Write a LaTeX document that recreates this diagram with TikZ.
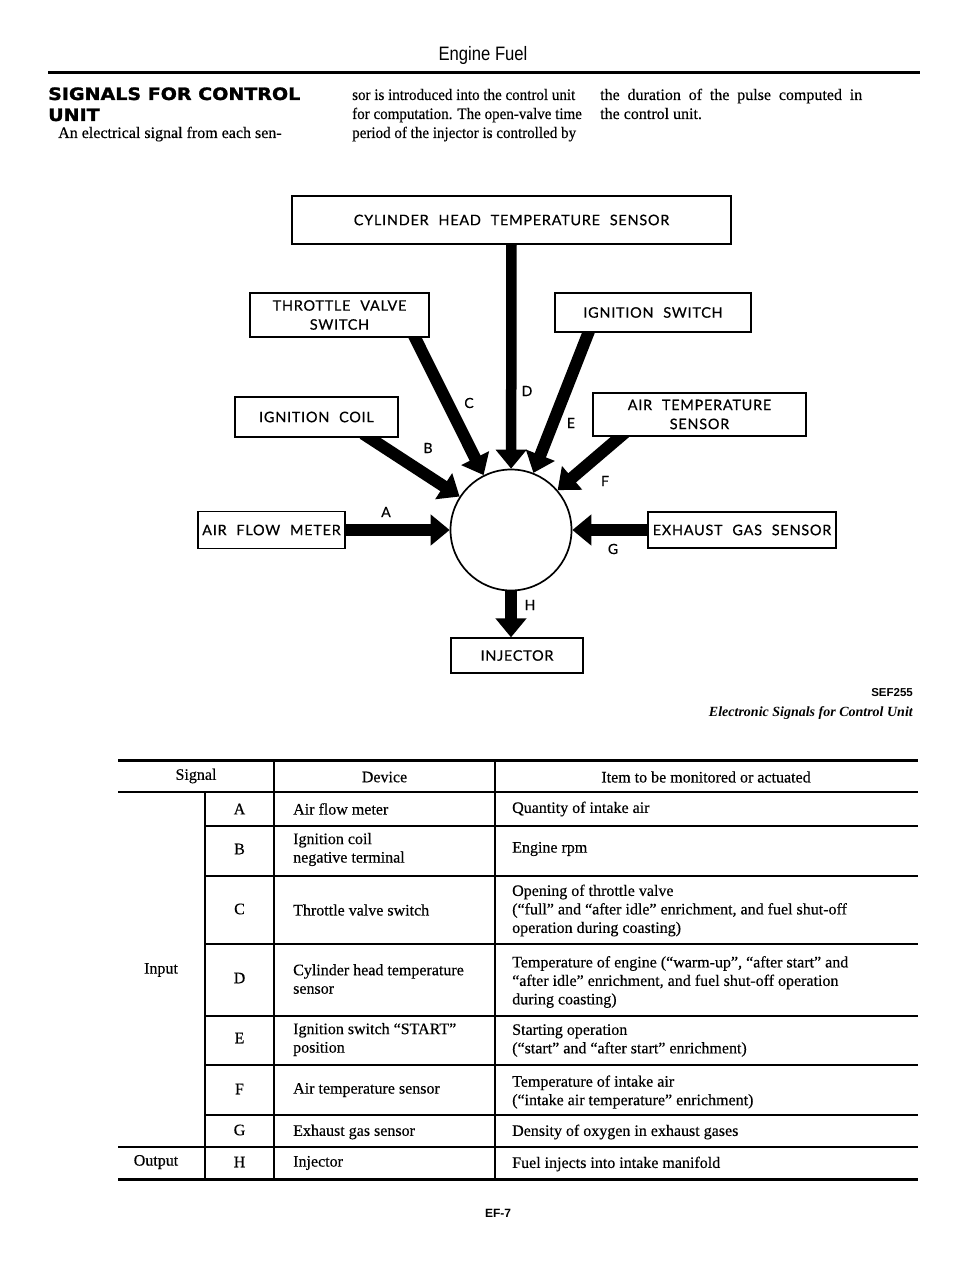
\documentclass[tikz,border=0pt]{standalone}
\usepackage{fontspec}
\setmainfont{Liberation Serif}
\newfontfamily\tabfont{Liberation Serif}[FakeBold=0.35]
\newfontfamily\diagfont{Lato}[LetterSpace=5,WordSpace=2.2,FakeBold=0.5]
\newfontfamily\headfont{DejaVu Sans}[BoldFeatures={FakeBold=1.5}]
\newfontfamily\arialfont{Liberation Sans}
\usetikzlibrary{arrows.meta}
\pgfdeclarelayer{bg}
\pgfsetlayers{bg,main}
\begin{document}
\begin{tikzpicture}[x=1pt,y=-1pt,
  box/.style={draw, line width=1.3pt, fill=white, inner sep=0pt, align=center,
    font=\diagfont\fontsize{14.5}{19}\selectfont},
  lbl/.style={font=\diagfont\fontsize{14}{16}\selectfont, inner sep=0pt},
  sig/.style={line width=12pt, -{Triangle[width=30pt,length=19pt]}},
  tline/.style={line width=1.7pt},
  thick rule/.style={line width=3pt},
  ttext/.style={font=\tabfont\fontsize{16}{18.5}\selectfont, inner sep=0pt, align=left, anchor=west},
  tcenter/.style={font=\tabfont\fontsize{16}{18.5}\selectfont, inner sep=0pt, align=center},
  ptext/.style={font=\tabfont\fontsize{16}{19}\selectfont, inner sep=0pt, anchor=base west},
  headtext/.style={font=\headfont\bfseries\fontsize{17}{19}\selectfont, anchor=base west, inner sep=0pt}]
\useasboundingbox (0,0) rectangle (960,1268);

% ---------- page header ----------
\node[font=\arialfont\fontsize{18.5}{20}\selectfont, anchor=base, inner sep=0pt] (title) at (483,61) {\scalebox{0.9}[1.05]{Engine Fuel}};
\draw[thick rule] (48,73) -- (920,73);

\node[headtext] (h1) at (48,100) {\scalebox{1.12}[1]{SIGNALS FOR CONTROL}};
\node[headtext] (h2) at (48,121) {\scalebox{1.12}[1]{UNIT}};
\node[ptext] (p1) at (58,138) {An electrical signal from each sen-};
\node[ptext] (p2) at (352,100) {\scalebox{0.94}[1]{sor is introduced into the control unit}};
\node[ptext] (p3) at (352,119) {\scalebox{0.94}[1]{for computation. The open-valve time}};
\node[ptext] (p4) at (352,138) {\scalebox{0.94}[1]{period of the injector is controlled by}};
\node[ptext] (p5) at (600,100) {\makebox[262pt][s]{the duration of the pulse computed in}};
\node[ptext] (p6) at (600,119) {the control unit.};

% ---------- diagram ----------
\node[box, minimum width=439pt, minimum height=48pt] (cyl) at (511.5,220) {CYLINDER HEAD TEMPERATURE SENSOR};
\node[box, minimum width=179pt, minimum height=44pt] (thr) at (339.5,315) {THROTTLE VALVE\\SWITCH};
\node[box, minimum width=196pt, minimum height=39pt] (isw) at (653,312.5) {IGNITION SWITCH};
\node[box, minimum width=163pt, minimum height=40pt] (coil) at (316.5,417) {IGNITION COIL};
\node[box, minimum width=213pt, minimum height=43pt] (atmp) at (699.5,414.5) {AIR TEMPERATURE\\SENSOR};
\node[box, minimum width=147pt, minimum height=37pt] (afm) at (271.5,530) {AIR FLOW METER};
\node[box, minimum width=188pt, minimum height=36pt] (exh) at (742,530) {EXHAUST GAS SENSOR};
\node[box, minimum width=132pt, minimum height=35pt] (inj) at (517,655.5) {INJECTOR};
\node[draw, circle, line width=1.7pt, fill=white, minimum size=121pt, inner sep=0pt] (cu) at (511,530) {};

\begin{pgfonlayer}{bg}
\draw[sig] ([xshift=-4pt]afm.east) -- (cu);
\draw[sig] ([xshift=46.5pt,yshift=4pt]coil.south) -- (cu);
\draw[sig] ([xshift=73.5pt,yshift=4pt]thr.south) -- (cu);
\draw[sig,line width=10.5pt] ([yshift=4pt]cyl.south) -- (cu);
\draw[sig] ([xshift=-63pt,yshift=4pt]isw.south) -- (cu);
\draw[sig] ([xshift=-74.5pt,yshift=4pt]atmp.south) -- (cu);
\draw[sig] ([xshift=4pt]exh.west) -- (cu);
\draw[sig] (cu) -- (cu.south |- inj.north);
\end{pgfonlayer}

\node[lbl] (lA) at (386,512) {A};
\node[lbl] (lB) at (428,448) {B};
\node[lbl] (lC) at (469,403) {C};
\node[lbl] (lD) at (527,391) {D};
\node[lbl] (lE) at (571,423) {E};
\node[lbl] (lF) at (605,481) {F};
\node[lbl] (lG) at (613,549) {G};
\node[lbl] (lH) at (530,605) {H};

% ---------- caption ----------
\node[font=\arialfont\bfseries\fontsize{11.5}{12}\selectfont, anchor=base east, inner sep=0pt] (sef) at (913,696) {SEF255};
\node[font=\bfseries\itshape\fontsize{14}{16}\selectfont, anchor=base east, inner sep=0pt] (cap) at (913,716) {Electronic Signals for Control Unit};

% ---------- table ----------
\draw[thick rule] (118,760) -- (918,760);
\draw[tline] (118,792) -- (918,792);
\foreach \yy in {826,876,944,1016,1065,1115} \draw[tline] (205,\yy) -- (918,\yy);
\draw[line width=2.2pt] (118,1147) -- (918,1147);
\draw[thick rule] (118,1179) -- (918,1179);
\draw[tline] (205,792) -- (205,1179);
\draw[tline] (274,760) -- (274,1179);
\draw[tline] (495,760) -- (495,1179);

\node[tcenter] (hs) at (196,776) {Signal};
\node[tcenter] (hd) at (384.5,777) {Device};
\node[tcenter] (hi) at (706,777) {Item to be monitored or actuated};
\node[tcenter] (in) at (161,970) {Input};
\node[tcenter] (out) at (156,1162) {Output};

\node[tcenter] (sA) at (239.5,809) {A};
\node[tcenter] (sB) at (239.5,849) {B};
\node[tcenter] (sC) at (239.5,909) {C};
\node[tcenter] (sD) at (239.5,978) {D};
\node[tcenter] (sE) at (239.5,1038) {E};
\node[tcenter] (sF) at (239.5,1089) {F};
\node[tcenter] (sG) at (239.5,1130) {G};
\node[tcenter] (sH) at (239.5,1162) {H};

\node[ttext] (dA) at (293,809) {Air flow meter};
\node[ttext] (dB) at (293,849.5) {Ignition coil\\negative terminal};
\node[ttext] (dC) at (293,910) {Throttle valve switch};
\node[ttext] (dD) at (293,979) {Cylinder head temperature\\sensor};
\node[ttext] (dE) at (293,1039.5) {Ignition switch “START”\\position};
\node[ttext] (dF) at (293,1090) {Air temperature sensor};
\node[ttext] (dG) at (293,1132) {Exhaust gas sensor};
\node[ttext] (dH) at (293,1163) {Injector};

\node[ttext] (iA) at (512,809) {Quantity of intake air};
\node[ttext] (iB) at (512,849) {Engine rpm};
\node[ttext] (iC) at (512,910.5) {Opening of throttle valve\\(“full” and “after idle” enrichment, and fuel shut-off\\operation during coasting)};
\node[ttext] (iD) at (512,982) {Temperature of engine (“warm-up”, “after start” and\\“after idle” enrichment, and fuel shut-off operation\\during coasting)};
\node[ttext] (iE) at (512,1040.5) {Starting operation\\(“start” and “after start” enrichment)};
\node[ttext] (iF) at (512,1092) {Temperature of intake air\\(“intake air temperature” enrichment)};
\node[ttext] (iG) at (512,1132) {Density of oxygen in exhaust gases};
\node[ttext] (iH) at (512,1164) {Fuel injects into intake manifold};

\node[font=\arialfont\bfseries\fontsize{12}{14}\selectfont, anchor=base, inner sep=0pt] (pg) at (498,1217) {EF-7};
\end{tikzpicture}
\end{document}
